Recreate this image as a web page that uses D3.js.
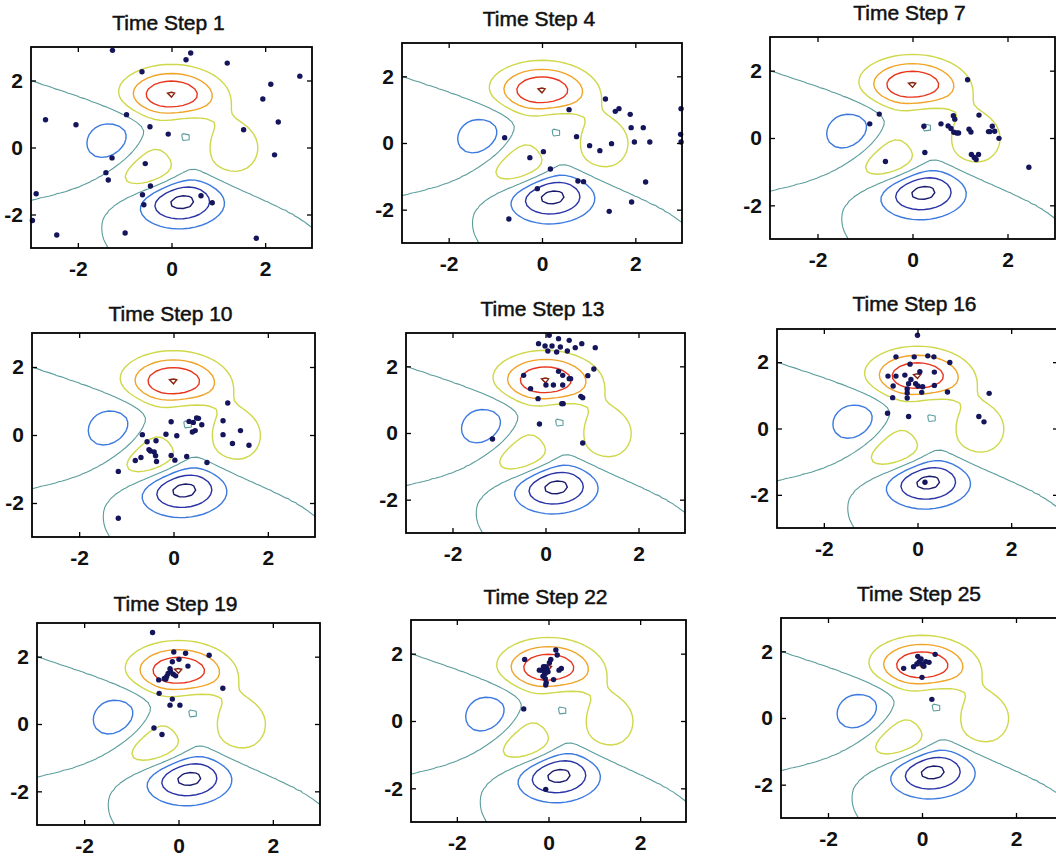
<html>
<head>
<meta charset="utf-8">
<script src="https://d3js.org/d3.v7.min.js"></script>
<style>
    body { margin: 0; background: #ffffff; }
    svg { display: block; font-family: "Liberation Sans", Arial, sans-serif; }
</style>
</head>
<body>
<svg id="chart" width="1056" height="857"></svg>
<script>

// titulos de cada panel
var titles = ["Time Step 1", "Time Step 4", "Time Step 7",
              "Time Step 10", "Time Step 13", "Time Step 16",
              "Time Step 19", "Time Step 22", "Time Step 25"];

var xTicks = [-2, 0, 2];
var yTicks = [-2, 0, 2];

// niveles de las curvas de nivel (peaks de matlab) y su color (jet, escaneado)
var levels = [-6, -4, -2, 0, 2, 4, 6, 8];
var levelColors = ["#1b1b6e", "#2a34a6", "#3c7ae0", "#5a9c9c",
                   "#cfd84a", "#f0a428", "#e8361e", "#8a2410"];

// particulas, [x, y]
var step1 = [[-1.26,2.90],[0.41,2.82],[0.31,2.62],[1.19,2.52],[-0.63,2.26],[2.74,2.13],[2.12,1.89],
             [1.95,1.45],[-0.96,0.98],[-2.69,0.83],[-2.04,0.68],[2.28,0.76],[-0.46,0.62],[1.54,0.53],
             [-0.07,0.40],[-1.27,-0.31],[2.20,-0.22],[-0.56,-0.48],[-1.40,-0.75],[-1.35,-0.97],
             [-0.45,-1.15],[-2.89,-1.38],[-0.62,-1.41],[0.63,-1.44],[0.87,-1.65],[-0.59,-1.71],
             [-2.97,-2.18],[-2.45,-2.61],[-0.99,-2.55],[1.81,-2.71]];
var step4 = [[1.36,1.32],[0.58,1.00],[1.57,0.95],[1.65,1.03],[1.89,0.86],[2.98,1.03],[1.91,0.46],
             [2.17,0.46],[2.97,0.26],[-0.80,0.16],[0.74,0.19],[1.02,-0.08],[1.24,-0.23],[1.49,-0.02],
             [1.98,0.03],[2.31,0.03],[2.98,0.03],[-0.26,-0.44],[0.03,-0.26],[0.18,-0.78],[0.77,-1.14],
             [0.89,-1.16],[-0.10,-1.37],[2.22,-1.17],[1.92,-1.77],[1.44,-2.05],[-0.71,-2.28]];
var step7 = [[1.16,1.73],[-0.70,0.71],[-0.90,0.42],[0.86,0.66],[0.89,0.56],[1.40,0.68],[0.60,0.42],
             [0.24,0.35],[0.75,0.36],[0.81,0.28],[0.87,0.17],[0.93,0.15],[0.97,0.15],[1.19,0.26],
             [1.23,0.18],[1.60,0.19],[1.68,0.35],[1.73,0.20],[1.63,0.19],[1.82,-0.01],[1.24,-0.49],
             [1.30,-0.58],[1.39,-0.49],[1.34,-0.64],[0.26,-0.43],[-0.57,-0.70],[2.45,-0.87]];
var step10 = [[1.15,0.94],[-0.05,0.39],[0.33,0.40],[0.49,0.50],[0.53,0.49],[0.42,0.37],[0.60,0.30],
              [0.46,0.13],[0.40,0.09],[1.05,0.42],[1.05,0.01],[1.42,0.13],[1.25,-0.25],[1.60,-0.30],
              [-0.66,0.01],[-0.16,0.02],[0.07,-0.02],[-0.56,-0.20],[-0.37,-0.17],[-0.52,-0.43],
              [-0.49,-0.47],[-0.41,-0.50],[-0.69,-0.66],[-0.38,-0.61],[-0.05,-0.60],[0.28,-0.63],
              [-0.81,-0.75],[-0.36,-0.78],[0.03,-0.74],[0.71,-0.81],[-1.17,-1.07],[-1.17,-2.45]];
var step13 = [[0.08,2.93],[-0.15,2.68],[-0.01,2.61],[0.14,2.61],[0.28,2.83],[0.51,2.78],[0.05,2.46],
              [0.32,2.58],[0.47,2.46],[0.64,2.56],[0.78,2.68],[1.07,2.56],[0.24,2.43],[-0.47,1.73],
              [0.28,1.85],[0.37,1.73],[0.51,1.63],[0.54,1.63],[0.01,1.44],[0.17,1.44],[-0.32,1.33],
              [0.37,1.44],[1.04,1.92],[0.91,1.72],[-0.16,1.03],[0.35,0.88],[0.38,0.88],[0.76,1.10],
              [0.80,1.06],[-0.13,0.27],[-1.14,-0.18],[0.80,-0.30]];
var step16 = [[0.00,2.81],[-0.46,2.16],[-0.07,2.16],[0.22,2.19],[0.35,2.16],[0.69,1.99],[-0.16,1.94],
              [0.05,1.71],[-0.63,1.58],[-0.46,1.58],[-0.27,1.61],[-0.14,1.48],[0.36,1.70],[-0.52,1.28],
              [-0.19,1.35],[-0.04,1.35],[0.01,1.28],[0.11,1.26],[0.36,1.30],[-0.22,1.19],[-0.22,1.07],
              [-0.22,0.92],[-0.53,0.93],[0.09,1.09],[0.64,1.10],[1.53,1.06],[-0.64,0.46],[-0.19,0.36],
              [1.31,0.36],[1.42,0.20],[0.16,-1.62]];
var step19 = [[-0.55,2.72],[-0.10,2.14],[0.15,2.10],[0.65,2.04],[0.01,1.92],[-0.13,1.85],[0.20,1.72],
              [-0.18,1.64],[-0.17,1.57],[-0.22,1.50],[-0.11,1.48],[-0.06,1.43],[-0.25,1.41],[-0.30,1.35],
              [-0.42,1.31],[-0.27,1.33],[0.94,1.06],[-0.41,0.91],[-0.13,0.74],[-0.18,0.56],[0.03,0.56],
              [-0.52,-0.12],[-0.35,-0.31]];
var step22 = [[0.16,2.11],[-0.52,1.83],[0.19,1.96],[0.05,1.83],[0.02,1.73],[0.28,1.56],[0.23,1.51],
              [-0.11,1.61],[-0.06,1.61],[-0.04,1.56],[-0.15,1.51],[-0.07,1.41],[-0.12,1.33],[-0.07,1.26],
              [0.11,1.23],[-0.05,1.14],[-0.06,1.07],[-0.20,1.51],[-0.09,1.46],[-0.01,1.46],
              [-0.54,0.36],[-0.06,-2.03]];
var step25 = [[0.28,1.91],[-0.09,1.85],[-0.02,1.77],[0.08,1.69],[-0.06,1.69],[0.01,1.62],[-0.11,1.62],
              [0.04,1.55],[0.15,1.67],[-0.18,1.54],[-0.39,1.49],[0.00,1.22],[0.21,0.56]];

var swarms = [step1, step4, step7, step10, step13, step16, step19, step22, step25];

// cajas de los ejes medidas sobre el escaneo: [left, top, right, bottom], y linea base del titulo
var boxes = [[31,47,312,248],[402,43,682,243],[770,37,1055,239],
             [32,333,315,537],[406,333,685,533],[777,329,1058,528],
             [37,623,320,825],[411,620,686,822],[781,618,1063,818]];
var titleBase = [30, 26, 20, 321, 316, 311, 611, 604, 601];

/* la superficie peaks, en una rejilla de paso 0.125 un poco mas grande que [-3,3]
   para que los bordes cerrados de d3.contours queden fuera del recorte */
function peaks(x, y) {
    return 3*(1-x)*(1-x)*Math.exp(-x*x-(y+1)*(y+1))
         - 10*(x/5 - x*x*x - Math.pow(y,5))*Math.exp(-x*x-y*y)
         - 1/3*Math.exp(-(x+1)*(x+1)-y*y);
}
var h = 0.125, g0 = -3.25, n = 53;
var zvals = [];
for (var j = 0; j < n; j++) {
    for (var i = 0; i < n; i++) {
        zvals.push(peaks(g0 + i*h, g0 + j*h));
    }
}
var contours = d3.contours().size([n, n]).thresholds(levels)(zvals);

var svg = d3.select("#chart");
svg.append("rect").attr("width", 1056).attr("height", 857).attr("fill", "#ffffff");

var fmt = function(d) { return String(d); }; // guion normal, sin decimales

boxes.forEach(function(b, k) {
    var x = d3.scaleLinear().domain([-3, 3]).range([b[0], b[2]]);
    var y = d3.scaleLinear().domain([-3, 3]).range([b[3], b[1]]);
    var g = svg.append("g");

    g.append("clipPath").attr("id", "clip" + k)
        .append("rect")
        .attr("x", b[0]).attr("y", b[1])
        .attr("width", b[2] - b[0]).attr("height", b[3] - b[1]);

    /* pasar de coordenadas de la rejilla a pixeles */
    var proj = d3.geoTransform({
        point: function(c, r) {
            this.stream.point(x(g0 + (c - 0.5)*h), y(g0 + (r - 0.5)*h));
        }
    });
    var path = d3.geoPath(proj);

    g.append("g").attr("clip-path", "url(#clip" + k + ")")
        .selectAll("path").data(contours).enter()
        .append("path")
        .attr("d", path)
        .attr("fill", "none")
        .attr("stroke", function(d, i) { return levelColors[i]; })
        .attr("stroke-width", function(d) { return d.value === 0 ? 1.1 : 1.4; });

    // particulas
    g.append("g").selectAll("circle").data(swarms[k]).enter()
        .append("circle")
        .attr("cx", function(d) { return x(d[0]); })
        .attr("cy", function(d) { return y(d[1]); })
        .attr("r", 2.7)
        .attr("fill", "#15155c");

    // ejes con las marcas hacia dentro, como matlab
    g.append("g").attr("transform", "translate(0," + b[3] + ")")
        .call(d3.axisBottom(x).tickValues(xTicks).tickFormat(fmt).tickSize(-5).tickPadding(13));
    g.append("g").attr("transform", "translate(" + b[0] + ",0)")
        .call(d3.axisLeft(y).tickValues(yTicks).tickFormat(fmt).tickSize(-5).tickPadding(8));
    g.append("g").attr("transform", "translate(0," + b[1] + ")")
        .call(d3.axisTop(x).tickValues(xTicks).tickSize(-5).tickFormat(""));
    g.append("g").attr("transform", "translate(" + b[2] + ",0)")
        .call(d3.axisRight(y).tickValues(yTicks).tickSize(-5).tickFormat(""));
    g.selectAll(".domain").remove();
    g.selectAll(".tick line").attr("stroke", "#000").attr("stroke-width", 1.3);
    g.selectAll(".tick text")
        .attr("font-family", "Liberation Sans, Arial, sans-serif")
        .attr("font-size", 21).attr("font-weight", "bold").attr("fill", "#111");

    g.append("rect")
        .attr("x", b[0]).attr("y", b[1])
        .attr("width", b[2] - b[0]).attr("height", b[3] - b[1])
        .attr("fill", "none").attr("stroke", "#000").attr("stroke-width", 1.8);

    g.append("text")
        .attr("x", (b[0] + b[2]) / 2 - 3)
        .attr("y", titleBase[k])
        .attr("text-anchor", "middle")
        .attr("font-size", 21)
        .attr("fill", "#111")
        .attr("stroke", "#111").attr("stroke-width", 0.5)
        .text(titles[k]);
});

</script>
</body>
</html>
